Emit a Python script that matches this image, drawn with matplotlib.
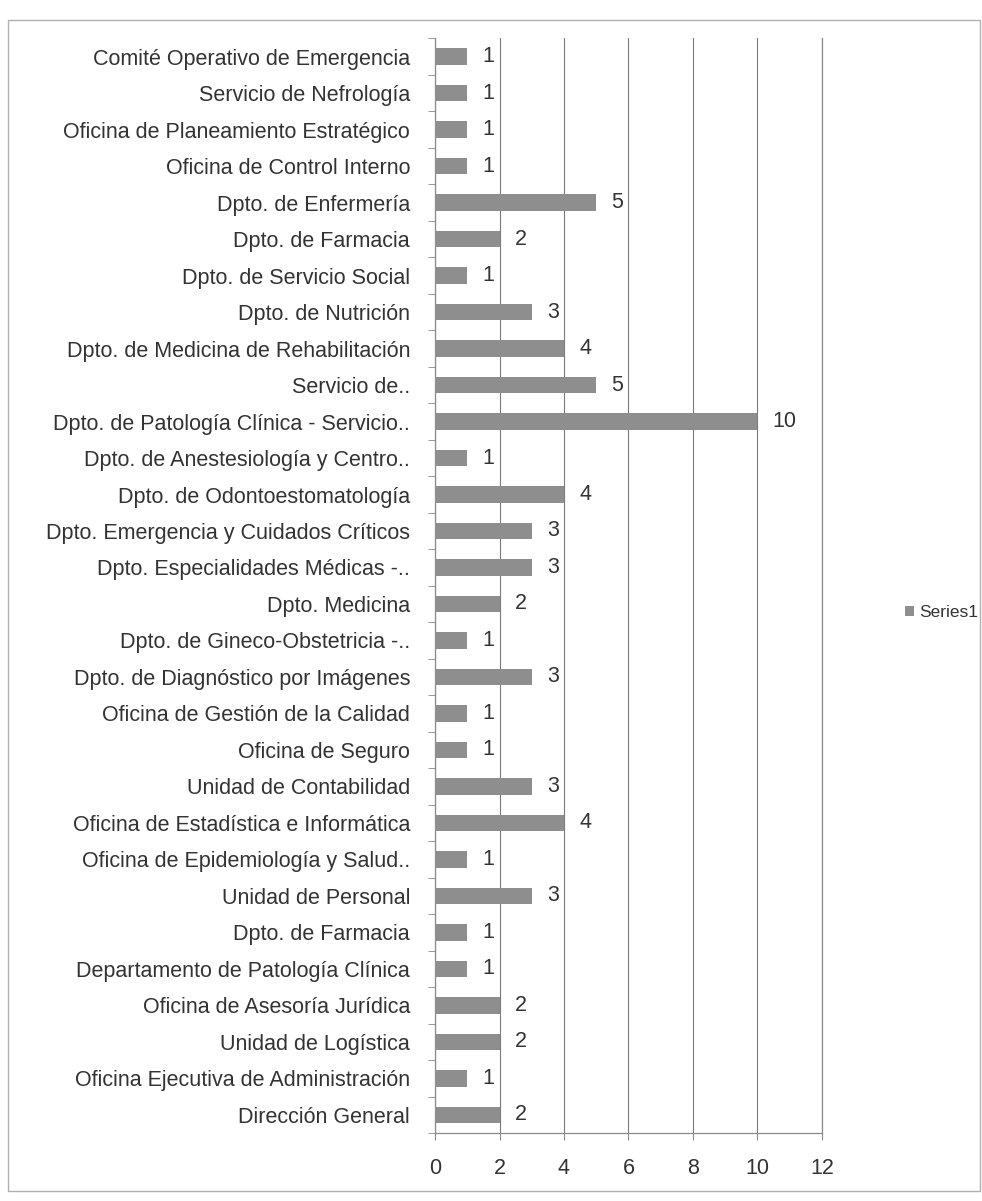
import numpy as np
import matplotlib
matplotlib.use("Agg")
import matplotlib.pyplot as plt
from matplotlib.patches import Rectangle

plt.rcParams['font.family'] = ['Liberation Sans', 'DejaVu Sans']

# categorias de abajo hacia arriba (orden de Excel)
categorias = [
    "Dirección General",
    "Oficina Ejecutiva de Administración",
    "Unidad de Logística",
    "Oficina de Asesoría Jurídica",
    "Departamento de Patología Clínica",
    "Dpto. de Farmacia",
    "Unidad de Personal",
    "Oficina de Epidemiología y Salud..",
    "Oficina de Estadística e Informática",
    "Unidad de Contabilidad",
    "Oficina de Seguro",
    "Oficina de Gestión de la Calidad",
    "Dpto. de Diagnóstico por Imágenes",
    "Dpto. de Gineco-Obstetricia -..",
    "Dpto. Medicina",
    "Dpto. Especialidades Médicas -..",
    "Dpto. Emergencia y Cuidados Críticos",
    "Dpto. de Odontoestomatología",
    "Dpto. de Anestesiología y Centro..",
    "Dpto. de Patología Clínica - Servicio..",
    "Servicio de..",
    "Dpto. de Medicina de Rehabilitación",
    "Dpto. de Nutrición",
    "Dpto. de Servicio Social",
    "Dpto. de Farmacia",
    "Dpto. de Enfermería",
    "Oficina de Control Interno",
    "Oficina de Planeamiento Estratégico",
    "Servicio de Nefrología",
    "Comité Operativo de Emergencia",
]
valores = [2, 1, 2, 2, 1, 1, 3, 1, 4, 3, 1, 1, 3, 1, 2, 3, 3, 4, 1, 10,
           5, 4, 3, 1, 2, 5, 1, 1, 1, 1]
x_ticks = [0, 2, 4, 6, 8, 10, 12]

texto = '#333333'
gris_linea = '#8a8a8a'
fs = 15.5

fig = plt.figure(figsize=(9.82, 12.01), dpi=100)
ax = fig.add_axes([0.443, 0.0566, 0.394, 0.9114])

pos = np.arange(len(categorias))
barras = ax.barh(pos, valores, height=0.45, color='#8e8e8e', label='Series1', zorder=3)

for p, v in zip(pos, valores):
    ax.annotate(str(v), (v, p), xytext=(11, 0), textcoords='offset points',
                ha='left', va='center', fontsize=fs, color=texto)

ax.set_xlim(0, 12)
ax.set_ylim(-0.5, len(categorias) - 0.5)
ax.set_xticks(x_ticks)
ax.set_yticks(pos)
ax.set_yticklabels(categorias)
ax.set_yticks(np.arange(-0.5, len(categorias)), minor=True)

ax.tick_params(axis='y', which='major', length=0, pad=18, labelsize=fs, labelcolor=texto)
ax.tick_params(axis='y', which='minor', length=5, direction='out', color=gris_linea)
ax.tick_params(axis='x', length=5, direction='out', pad=13, labelsize=fs,
               labelcolor=texto, color=gris_linea)

ax.grid(axis='x', color='#7a7a7a', linewidth=0.8, zorder=0)
ax.spines['top'].set_visible(False)
for lado in ['left', 'bottom', 'right']:
    ax.spines[lado].set_color(gris_linea)
    ax.spines[lado].set_linewidth(0.9)

fig.legend(handles=[barras], labels=['Series1'], loc='center left',
           bbox_to_anchor=(0.922, 0.49), frameon=False, fontsize=12.5,
           handlelength=0.5, handleheight=0.5, handletextpad=0.3,
           borderaxespad=0, borderpad=0, labelcolor=texto)

# marco exterior del grafico
fig.patches.append(Rectangle((0.008, 0.008), 0.99, 0.975, transform=fig.transFigure,
                             fill=False, edgecolor='#b0b0b0', linewidth=1.0))

fig.savefig('out.png', dpi=100, facecolor='white')
